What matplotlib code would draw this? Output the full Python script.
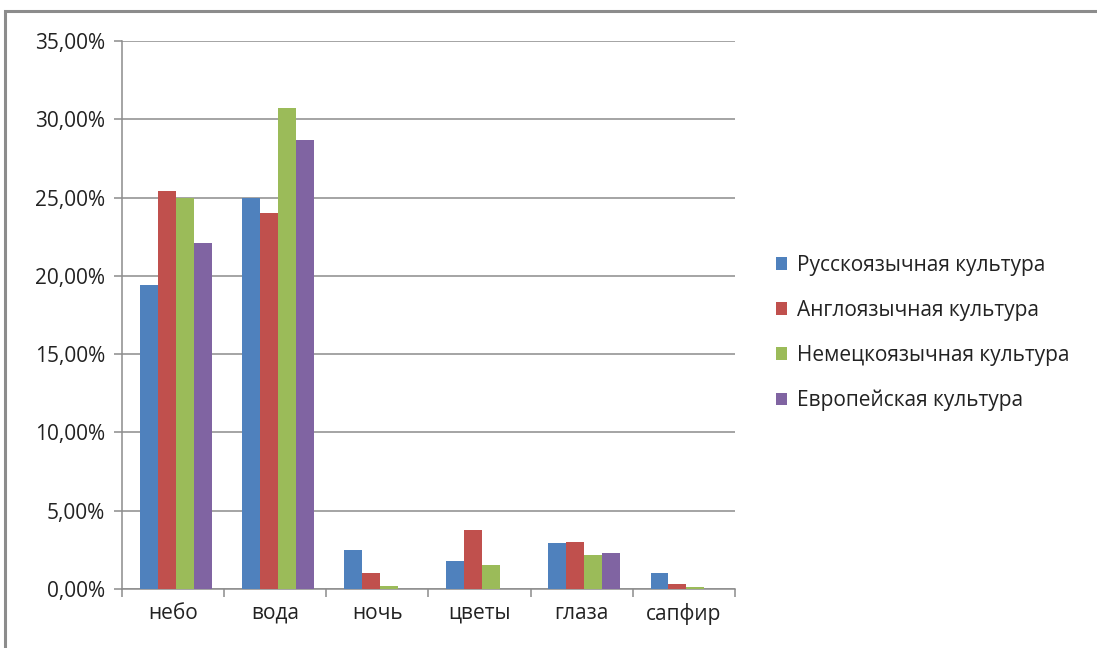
import numpy as np
import matplotlib.pyplot as plt
from matplotlib.patches import Rectangle
from matplotlib.ticker import FuncFormatter, FixedLocator

plt.rcParams['font.family'] = ['Open Sans', 'DejaVu Sans']

categories = ['небо', 'вода', 'ночь', 'цветы', 'глаза', 'сапфир']
series_names = ['Русскоязычная культура', 'Англоязычная культура',
                'Немецкоязычная культура', 'Европейская культура']
russian = [19.4, 25.0, 2.47, 1.82, 2.93, 1.02]
english = [25.4, 24.0, 1.03, 3.75, 3.02, 0.30]
german = [25.0, 30.7, 0.19, 1.55, 2.19, 0.15]
european = [22.1, 28.65, 0.0, 0.0, 2.28, 0.0]
colors = ['#4F81BD', '#C0504D', '#9BBB59', '#8064A2']

fig = plt.figure(figsize=(10.97, 6.48), dpi=100)
ax = fig.add_axes([122 / 1097, 1 - 589 / 648, (735 - 122) / 1097, (589 - 41) / 648])

# outer chart border
fig.patches.append(Rectangle((5 / 1097, -0.1), 1.2, 1 - 11 / 648 + 0.1,
                             transform=fig.transFigure, fill=False,
                             edgecolor='#8c8c8c', linewidth=2.2))

x = np.arange(len(categories))
w = 0.176
for i, (vals, name) in enumerate(zip([russian, english, german, european], series_names)):
    ax.bar(x + 0.025 + (i - 1.5) * w, vals, width=w, color=colors[i], label=name, zorder=3)

ax.set_xlim(-0.5, len(categories) - 0.5)
ax.set_ylim(0, 35)
ax.set_yticks(np.arange(0, 36, 5))
ax.yaxis.set_major_formatter(FuncFormatter(lambda v, p: f'{v:.2f}%'.replace('.', ',')))
ax.grid(axis='y', color='#8c8c8c', linewidth=1.1, zorder=0)

ax.set_xticks(x)
ax.set_xticklabels(categories)
ax.xaxis.set_minor_locator(FixedLocator(np.arange(-0.5, len(categories), 1)))
ax.tick_params(axis='x', which='major', length=0, pad=10, labelsize=15, colors='#222222')
ax.tick_params(axis='x', which='minor', length=6, color='#8c8c8c', width=1.1)
ax.tick_params(axis='y', length=6, color='#8c8c8c', width=1.1, pad=6,
               labelsize=15, labelcolor='#222222')

for s in ['top', 'right']:
    ax.spines[s].set_visible(False)
for s in ['left', 'bottom']:
    ax.spines[s].set_color('#8c8c8c')
    ax.spines[s].set_linewidth(1.1)

fig.legend(loc='center left', bbox_to_anchor=(757 / 1097, 1 - 333 / 648),
           frameon=False, fontsize=15, handlelength=0.55, handleheight=0.55,
           handletextpad=0.45, labelspacing=1.15, labelcolor='#222222')

fig.savefig('out.png', dpi=100)
